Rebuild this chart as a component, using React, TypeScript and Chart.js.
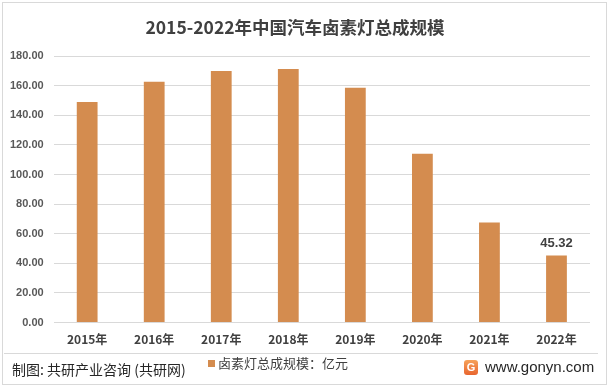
import React, { useEffect, useRef } from "react";
import { Chart, registerables } from "chart.js";

Chart.register(...registerables);

const categories = ["2015年", "2016年", "2017年", "2018年", "2019年", "2020年", "2021年", "2022年"];
const values = [149.0, 162.6, 169.9, 171.2, 158.5, 114.0, 67.6, 45.32];
const labeledIndex = [7];
const yTicks = { min: 0, max: 180, step: 20 };
const titleText = "2015-2022年中国汽车卤素灯总成规模";
const seriesName = "卤素灯总成规模：亿元";
const sourceText = "制图: 共研产业咨询 (共研网)";
const siteText = "www.gonyn.com";

const BAR = "#D48C4F";

const valueLabelPlugin = {
  id: "valueLabel",
  afterDatasetsDraw(chart: any) {
    const ctx = chart.ctx;
    const meta = chart.getDatasetMeta(0);
    ctx.save();
    ctx.font = "bold 13px 'Liberation Sans', Arial, sans-serif";
    ctx.fillStyle = "#404040";
    ctx.textAlign = "center";
    ctx.textBaseline = "bottom";
    labeledIndex.forEach((i) => {
      const el = meta.data[i];
      ctx.fillText(values[i].toFixed(2), el.x, el.y - 6);
    });
    ctx.restore();
  },
};

export default function App() {
  const ref = useRef<HTMLCanvasElement>(null);
  useEffect(() => {
    if (!ref.current) return;
    const chart = new Chart(ref.current, {
      type: "bar",
      data: {
        labels: categories,
        datasets: [
          {
            label: seriesName,
            data: values,
            backgroundColor: BAR,
            barPercentage: 0.31,
            categoryPercentage: 1,
          },
        ],
      },
      plugins: [valueLabelPlugin],
      options: {
        animation: false,
        responsive: false,
        devicePixelRatio: 1,
        layout: { padding: { left: 0, right: 21, top: 8, bottom: 3 } },
        plugins: {
          legend: { display: false },
          tooltip: { enabled: false },
          title: {
            display: true,
            text: titleText,
            color: "#404040",
            font: { size: 17.5, weight: "bold", family: "'Noto Sans CJK SC', sans-serif" },
            padding: { top: 9, bottom: 18 },
          },
        },
        scales: {
          x: {
            grid: { display: false, drawTicks: false },
            border: { display: false },
            ticks: {
              color: "#404040",
              padding: 10,
              font: { size: 12, weight: "bold", family: "'Noto Sans CJK SC', sans-serif" },
            },
          },
          y: {
            min: yTicks.min,
            max: yTicks.max,
            grid: { color: "#d9d9d9", lineWidth: 1, drawTicks: false },
            border: { display: false },
            ticks: {
              stepSize: yTicks.step,
              color: "#595959",
              padding: 10,
              font: { size: 11, weight: "bold", family: "'Liberation Sans', Arial, sans-serif" },
              callback: (v: any) => Number(v).toFixed(2),
            },
          },
        },
      },
    });
    return () => chart.destroy();
  }, []);

  const font = "'Noto Sans CJK SC', sans-serif";
  return (
    <div style={{ position: "absolute", left: 0, top: 0, width: 611, height: 388, background: "#fff", fontFamily: font }}>
      <div style={{ position: "absolute", left: 2, top: 2, width: 603, height: 381, border: "1px solid #d9d9d9" }} />
      <canvas ref={ref} width={611} height={360} style={{ position: "absolute", left: 0, top: 0, width: 611, height: 360 }} />
      <div style={{ position: "absolute", left: 4, top: 353, width: 594, height: 1, background: "#d9d9d9" }} />
      <div style={{ position: "absolute", left: 12, top: 360, fontSize: 14, color: "#262626", whiteSpace: "nowrap", lineHeight: "18px" }}>
        {sourceText}
      </div>
      <div style={{ position: "absolute", left: 208, top: 355, fontSize: 13, color: "#404040", whiteSpace: "nowrap", lineHeight: "16px", display: "flex", alignItems: "center" }}>
        <span style={{ display: "inline-block", width: 7, height: 7, background: BAR, marginRight: 3 }} />
        {seriesName}
      </div>
      <div style={{ position: "absolute", left: 464, top: 360, width: 14, height: 15, borderRadius: 3, background: "linear-gradient(180deg,#f6a25a,#e8652f)", color: "#fff", fontSize: 11, fontWeight: "bold", textAlign: "center", lineHeight: "15px", fontFamily: "'Liberation Sans', Arial, sans-serif" }}>
        G
      </div>
      <div style={{ position: "absolute", left: 485, top: 358, fontSize: 15, color: "#262626", whiteSpace: "nowrap", lineHeight: "18px", fontFamily: "'Liberation Sans', Arial, sans-serif" }}>
        {siteText}
      </div>
    </div>
  );
}
